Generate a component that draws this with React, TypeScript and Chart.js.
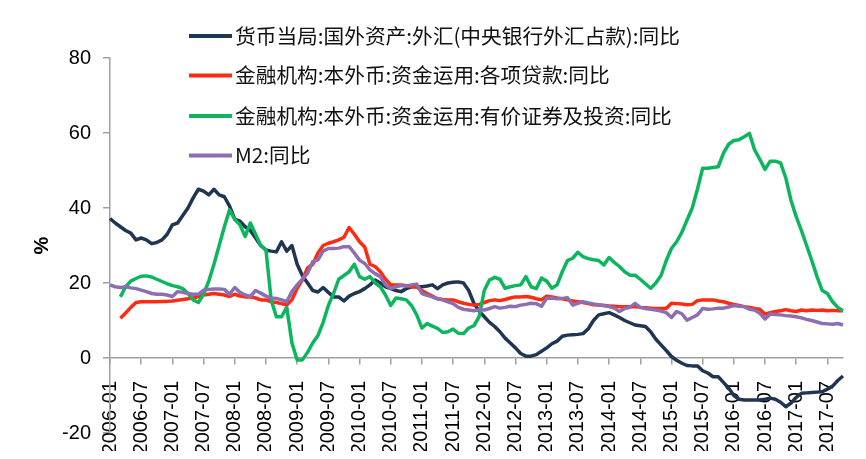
import React, { useEffect, useRef } from "react";
import { Chart, registerables } from "chart.js";

Chart.register(...registerables);

// Categories: monthly, 2006-01 .. 2017-10
const START_YEAR = 2006;
const MONTH_COUNT = 142;
const months: string[] = [];
for (let i = 0; i < MONTH_COUNT; i++) {
  const y = START_YEAR + Math.floor(i / 12);
  const m = (i % 12) + 1;
  months.push(`${y}-${m < 10 ? "0" + m : m}`);
}

const seriesNames = [
  "货币当局:国外资产:外汇(中央银行外汇占款):同比",
  "金融机构:本外币:资金运用:各项贷款:同比",
  "金融机构:本外币:资金运用:有价证券及投资:同比",
  "M2:同比",
];

const fxReserves: (number | null)[] = [
  37.2, 36, 35, 34, 33.3, 31.5, 32, 31.5, 30.5, 30.8,
  31.5, 33, 35.5, 36, 38, 40, 42.7, 45, 44.5, 43.5,
  45, 43.5, 43, 40.5, 37, 36.5, 35, 34, 32, 30,
  28.8, 28.5, 28.3, 31, 28.5, 30, 25, 22, 20, 18,
  17.6, 18.8, 17.5, 16.3, 16.3, 15.2, 16.5, 17.2, 17.7, 18.5,
  19.5, 20.8, 20, 19, 18.5, 18, 17.7, 18.5, 19, 19,
  19, 19.2, 19.5, 18.5, 19.5, 20, 20.2, 20.3, 20, 18,
  14.6, 12.5, 11, 9.5, 8.4, 7, 5.3, 4, 2.7, 1.2,
  0.5, 0.5, 0.9, 1.8, 2.7, 3.8, 4.5, 5.8, 6.1, 6.2,
  6.3, 6.5, 7.8, 10, 11.5, 11.8, 12.1, 11.5, 10.8, 10,
  9.4, 8.8, 8.6, 8.4, 7, 5, 3.5, 2, 0.4, -0.6,
  -1.4, -2, -2.1, -2.1, -3.4, -4, -5, -5, -6.5, -8,
  -10, -11, -11.2, -11.2, -11.2, -11.2, -11, -10.7, -11, -11.8,
  -13, -12, -10.5, -9.4, -9.3, -9.2, -9.1, -9, -8.3, -7.5,
  -6, -4.8,
];

const loans: (number | null)[] = [
  null, null, 10.6, 12, 13.5, 14.8, 15, 15, 15, 15,
  15.1, 15.1, 15.2, 15.4, 15.6, 15.8, 16, 16.4, 16.8, 17,
  17.2, 17, 16.8, 16.4, 17, 16.5, 16.3, 16.3, 16, 15.5,
  15.5, 15, 14.8, 14.5, 14.1, 15.5, 18.6, 20.8, 24, 25,
  28, 30, 30.6, 31, 31.5, 32.2, 34.8, 33, 31, 29.6,
  25, 24.4, 23, 21, 19.5, 19.5, 19.5, 19.3, 19, 19,
  18, 17.2, 16.5, 15.8, 15.6, 15.5, 15.5, 15, 14.6, 14.3,
  14.1, 14.3, 14.8, 15.3, 15.5, 15.3, 15.6, 16, 16.3, 16.3,
  16.4, 16.2, 15.8, 15.5, 16.5, 16.3, 16, 15.8, 15.5, 15.2,
  15, 14.8, 14.5, 14.2, 14.1, 14, 13.9, 13.8, 13.7, 13.7,
  13.7, 13.7, 13.5, 13.4, 13.3, 13.2, 13.2, 13.2, 14.6, 14.5,
  14.4, 14.2, 14.3, 15.3, 15.5, 15.5, 15.5, 15.2, 15, 14.6,
  14.3, 14, 13.7, 13.5, 13.2, 13, 11.7, 12.1, 12.4, 12.6,
  12.9, 12.6, 12.4, 12.8, 12.6, 12.8, 12.7, 12.8, 12.6, 12.7,
  12.6, 12.6,
];

const securities: (number | null)[] = [
  null, null, 16.3, 19, 20.5, 21.2, 21.8, 21.9, 21.6, 21,
  20.4, 19.8, 19.3, 19, 18.5, 17.2, 15.5, 14.8, 17, 20.5,
  25, 30, 35, 39.5, 37, 35.5, 32.4, 36, 33, 30,
  28.8, 15.5, 11, 11, 13.5, 4, -0.5, -0.5, 1.5, 4,
  6, 9.5, 14, 17.2, 21, 22, 23, 25, 21.7, 21,
  21.7, 20, 19, 16.8, 14, 16, 15.8, 15.5, 14, 11.5,
  8, 9.2, 8.5, 7.9, 6.8, 7, 7.7, 6.6, 6.5, 8,
  8.6, 11, 18, 20.8, 21.5, 21, 18.6, 19, 19.3, 19.5,
  21.7, 19, 18.5, 21.3, 20.5, 18.6, 19.5, 23, 26, 26.6,
  28.2, 27, 26.5, 26.2, 26, 24.8, 26.8, 25.5, 24.4, 23,
  22.1, 22.1, 21, 19.8, 18.6, 20, 22, 26, 29.2, 31,
  33.5, 36.8, 40, 45, 50.6, 50.6, 50.8, 51, 54.6, 57,
  58, 58.2, 59, 59.9, 55.5, 53, 50.3, 52.5, 52.5, 52,
  48, 42, 37.7, 34, 30, 26, 21.7, 18, 17.2, 15,
  13.5, 12.6,
];

const m2: (number | null)[] = [
  19.5, 19, 18.8, 19, 18.7, 18.5, 18.1, 17.7, 17.2, 17,
  17, 16.8, 16.4, 17.7, 17.5, 17.2, 17, 17, 18.1, 18.3,
  18.4, 18.4, 18.3, 17, 18.8, 17.5, 16.8, 16.4, 18, 17.3,
  16.5, 16, 15.9, 15.5, 15, 17.7, 19.5, 21, 22.6, 25.7,
  26.2, 28.5, 29.2, 29.2, 29.3, 29.7, 29.7, 28, 26.1, 25.2,
  23.5, 22.5, 21.7, 19.5, 18.5, 19, 19.3, 19.2, 19.5, 19.7,
  17.2, 16.7, 16.3, 15.8, 15.5, 15, 14.5, 13.5, 13, 12.8,
  12.6, 12.9, 12.8, 13.2, 13.7, 13.3, 13.5, 13.8, 13.7, 14.1,
  14.3, 14.6, 14.5, 13.8, 15.9, 16, 15.8, 15.9, 16.1, 14.1,
  14.6, 15, 14.7, 14.4, 14.2, 14, 13.7, 13.3, 12.4, 13.2,
  13.5, 14.6, 13.5, 13.2, 13, 12.8, 12.5, 12.1, 10.8, 12.4,
  11.8, 10.1, 10.8, 11.5, 13.2, 13, 13.1, 13.3, 13.3, 13.6,
  14, 13.8, 13.7, 13, 12.8, 11.9, 10.4, 11.7, 11.6, 11.5,
  11.3, 11.2, 11, 10.7, 10.3, 10, 9.6, 9.2, 9.1, 9,
  9.2, 8.8,
];

const yMin = -20;
const yMax = 80;
const yStep = 20;
const labelMonths = ["01", "07"];

const colors = ["#1f3552", "#ff2a12", "#0cb55e", "#8b6fb0"];
const seriesData = [fxReserves, loans, securities, m2];

const AXIS_FONT = '"Liberation Sans", Arial, sans-serif';
const LEGEND_FONT = '"Noto Sans CJK SC", "Noto Sans", sans-serif';

const legendPlugin = {
  id: "insideLegend",
  afterDraw(chart: any) {
    const ctx = chart.ctx;
    ctx.save();
    const x0 = 181;
    const x1 = 224;
    const tx = 227;
    const ys = [28, 67.5, 108, 147.5];
    seriesNames.forEach((name, i) => {
      ctx.strokeStyle = colors[i];
      ctx.lineWidth = 4;
      ctx.lineCap = "butt";
      ctx.beginPath();
      ctx.moveTo(x0, ys[i]);
      ctx.lineTo(x1, ys[i]);
      ctx.stroke();
      ctx.fillStyle = "#111";
      ctx.font = `20.7px ${LEGEND_FONT}`;
      ctx.textBaseline = "middle";
      ctx.textAlign = "left";
      ctx.fillText(name, tx, ys[i]);
    });
    ctx.restore();
  },
};

export default function App() {
  const canvasRef = useRef<HTMLCanvasElement | null>(null);

  useEffect(() => {
    if (!canvasRef.current) return;
    const orders = [4, 3, 2, 1];
    const chart = new Chart(canvasRef.current, {
      type: "line",
      data: {
        labels: months,
        datasets: seriesNames.map((name, i) => ({
          label: name,
          data: seriesData[i],
          borderColor: colors[i],
          backgroundColor: colors[i],
          borderWidth: 3.5,
          pointRadius: 0,
          tension: 0,
          fill: false,
          order: orders[i],
          borderJoinStyle: "round" as const,
        })),
      },
      options: {
        animation: false,
        responsive: true,
        maintainAspectRatio: false,
        layout: { padding: { left: 18, top: 50, right: 15, bottom: 18 } },
        plugins: {
          legend: { display: false },
          tooltip: { enabled: false },
        },
        scales: {
          x: {
            type: "category",
            position: { y: 0 } as any,
            offset: false,
            afterFit: (scale: any) => {
              scale.height = 0;
              scale.paddingLeft = 0;
              scale.paddingRight = 0;
            },
            grid: {
              display: true,
              drawOnChartArea: false,
              drawTicks: true,
              tickLength: 6,
              color: "#a0a0a0",
              lineWidth: 1.5,
            },
            border: { display: true, color: "#a0a0a0", width: 1.5 },
            ticks: {
              autoSkip: false,
              maxRotation: 90,
              minRotation: 90,
              padding: 17,
              color: "#000",
              font: { family: AXIS_FONT, size: 20 },
              callback: function (this: any, _v: any, idx: number) {
                const lab = months[idx];
                return labelMonths.includes(lab.slice(5)) ? lab : null;
              },
            },
          },
          y: {
            type: "linear",
            position: "left",
            min: yMin,
            max: yMax,
            afterFit: (scale: any) => {
              scale.width = 84;
              scale.paddingTop = 0;
              scale.paddingBottom = 0;
            },
            grid: {
              display: true,
              drawOnChartArea: false,
              drawTicks: true,
              tickLength: 7,
              color: "#a0a0a0",
              lineWidth: 1.5,
            },
            border: { display: true, color: "#a0a0a0", width: 1.5 },
            ticks: {
              stepSize: yStep,
              padding: 12,
              color: "#000",
              font: { family: AXIS_FONT, size: 20 },
            },
            title: {
              display: true,
              text: "%",
              color: "#000",
              font: { family: AXIS_FONT, size: 20, weight: "bold" },
              padding: { top: 4, bottom: 4 },
            },
          },
        },
      },
      plugins: [legendPlugin],
    });
    return () => chart.destroy();
  }, []);

  return (
    <div style={{ width: 850, height: 443, position: "relative" }}>
      <canvas ref={canvasRef} />
    </div>
  );
}
